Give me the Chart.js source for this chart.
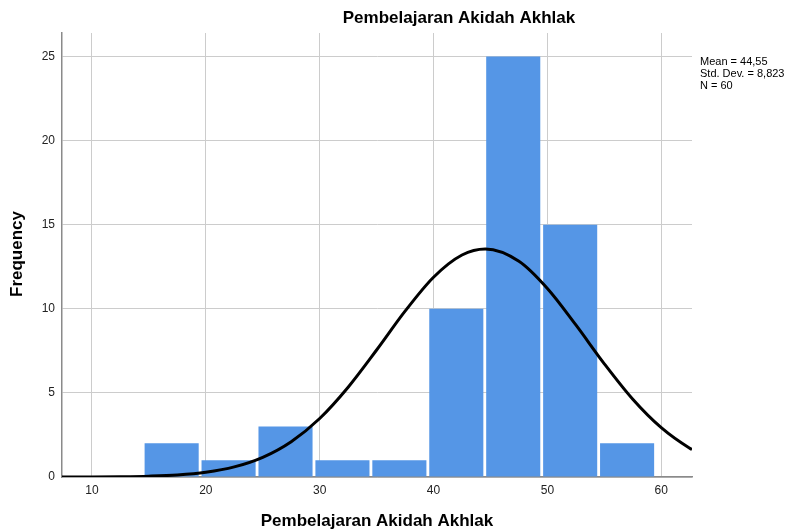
<!DOCTYPE html>
<html>
<head>
<meta charset="utf-8">
<script src="https://cdn.jsdelivr.net/npm/chart.js@4/dist/chart.umd.min.js"></script>
<style>
html,body{margin:0;padding:0;background:#fff;}
#wrap{width:793px;height:531px;position:relative;}
</style>
</head>
<body>
<div id="wrap"><canvas id="c" width="793" height="531"></canvas></div>
<script>
// Histogram bins (centres) and frequencies
const binCentres = [17, 22, 27, 32, 37, 42, 47, 52, 57];
const frequencies = [2, 1, 3, 1, 1, 10, 25, 15, 2];

// Normal curve
const curveX = [7.37, 10, 12.5, 15, 17.5, 20, 22.5, 25, 27.5, 30, 32.5, 35, 37.5, 40, 42.5, 44.55, 47.5, 50, 52.5, 55, 57.5, 60, 62.5, 62.7];
const curveY = [0.002, 0.006, 0.019, 0.05, 0.12, 0.28, 0.6, 1.17, 2.1, 3.48, 5.34, 7.55, 9.86, 11.88, 13.2, 13.56, 12.83, 11.21, 9.04, 6.73, 4.62, 2.93, 1.71, 1.64];

// Tick labels
const xTicks = [10, 20, 30, 40, 50, 60];
const yTicks = [0, 5, 10, 15, 20, 25];

const titleText = 'Pembelajaran Akidah Akhlak';
const xTitle = 'Pembelajaran Akidah Akhlak';
const yTitle = 'Frequency';
const statsLines = ['Mean = 44,55', 'Std. Dev. = 8,823', 'N = 60'];

const FONT = '"Liberation Sans", Arial, sans-serif';

const textPlugin = {
  id: 'texts',
  afterDraw(chart) {
    const ctx = chart.ctx;
    const a = chart.chartArea;
    ctx.save();
    ctx.fillStyle = '#000';
    ctx.font = 'bold 17px ' + FONT;
    ctx.textAlign = 'center';
    ctx.textBaseline = 'middle';
    ctx.fillText(titleText, 459, 18);
    ctx.fillText(xTitle, (a.left + a.right) / 2, 521);
    ctx.save();
    ctx.translate(17, 254);
    ctx.rotate(-Math.PI / 2);
    ctx.fillText(yTitle, 0, 0);
    ctx.restore();
    ctx.font = '11px ' + FONT;
    ctx.textAlign = 'left';
    statsLines.forEach((s, i) => ctx.fillText(s, 700, 62 + i * 12));
    ctx.restore();
  }
};

new Chart(document.getElementById('c'), {
  data: {
    datasets: [
      {
        type: 'line',
        data: curveX.map((x, i) => ({x: x, y: curveY[i]})),
        borderColor: '#000',
        borderWidth: 3,
        pointRadius: 0,
        fill: false,
        cubicInterpolationMode: 'monotone',
        order: 0
      },
      {
        type: 'bar',
        data: binCentres.map((x, i) => ({x: x, y: frequencies[i]})),
        backgroundColor: '#5596e6',
        borderWidth: 0,
        barPercentage: 0.95,
        categoryPercentage: 1,
        order: 1
      }
    ]
  },
  options: {
    responsive: false,
    animation: false,
    layout: {padding: {left: 0, top: 33, right: 101, bottom: 0}},
    plugins: {legend: {display: false}, tooltip: {enabled: false}, title: {display: false}},
    scales: {
      x: {
        type: 'linear',
        min: 7.37,
        max: 62.7,
        offset: false,
        afterBuildTicks: s => { s.ticks = xTicks.map(v => ({value: v})); },
        afterFit: s => { s.height = 54; },
        grid: {color: '#cccccc', lineWidth: 1, drawTicks: false, offset: false},
        border: {color: '#8a8a8a', width: 1.5},
        ticks: {color: '#222', font: {size: 12, family: FONT}, padding: 6, maxRotation: 0}
      },
      y: {
        type: 'linear',
        min: 0,
        max: 26.4,
        afterBuildTicks: s => { s.ticks = yTicks.map(v => ({value: v})); },
        afterFit: s => { s.width = 62; },
        grid: {color: '#cccccc', lineWidth: 1, drawTicks: false},
        border: {color: '#8a8a8a', width: 1.5},
        ticks: {color: '#222', font: {size: 12, family: FONT}, padding: 7}
      }
    }
  },
  plugins: [textPlugin]
});
</script>
</body>
</html>
